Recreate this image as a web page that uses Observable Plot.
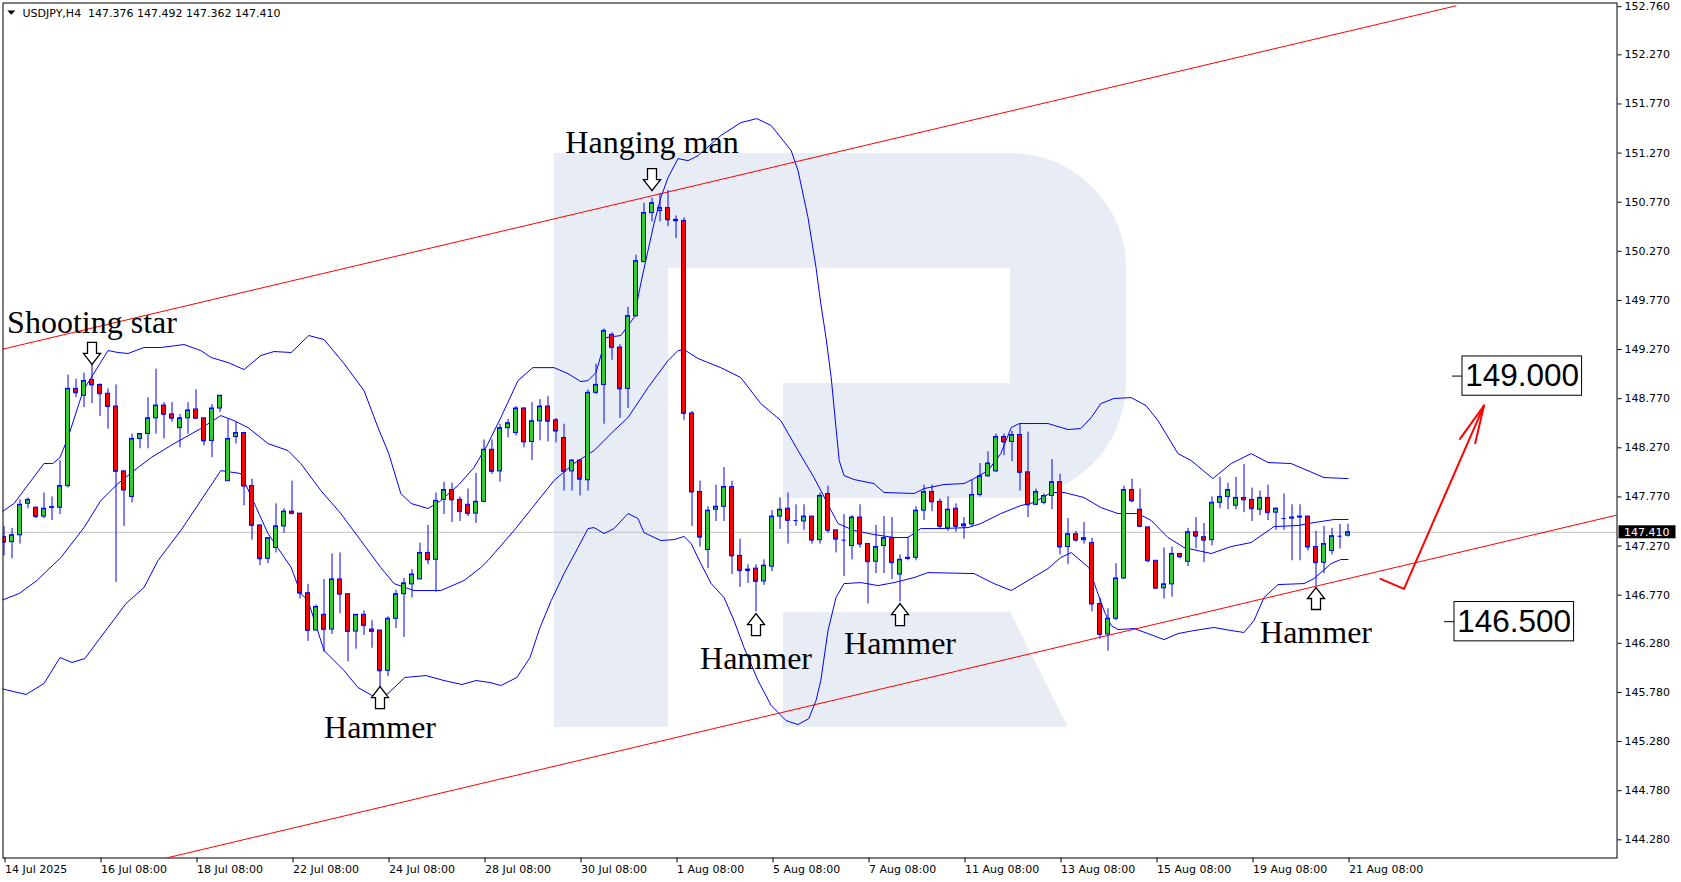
<!DOCTYPE html>
<html><head><meta charset="utf-8">
<script src="https://cdn.jsdelivr.net/npm/d3@7"></script>
<script src="https://cdn.jsdelivr.net/npm/@observablehq/plot@0.6"></script>
<style>
html,body{margin:0;padding:0;background:#fff;}
#chart{width:1681px;height:882px;overflow:hidden;}
svg text{white-space:pre;}
</style></head><body><div id="chart"></div>
<script>
// ---------- DATA ----------
const symbol = "USDJPY,H4";
const opens = [
147.36,147.31,147.38,147.70,147.66,147.57,147.66,147.66,147.88,148.87,
148.80,148.96,148.91,148.82,148.69,148.03,147.77,148.36,148.41,148.57,
148.70,148.61,148.47,148.57,148.66,148.57,148.34,148.67,147.93,148.38,
148.42,147.88,147.48,147.14,147.25,147.47,147.62,147.60,146.79,146.41,
146.57,146.42,146.93,146.78,146.40,146.57,146.42,146.41,146.00,146.53,
146.78,146.88,146.93,147.20,147.13,147.74,147.84,147.74,147.69,147.60,
147.72,148.25,148.03,148.47,148.42,148.67,148.33,148.54,148.69,148.55,
148.37,148.03,148.14,147.94,148.83,148.91,149.42,149.29,148.87,149.61,
150.16,150.66,150.68,150.71,150.59,150.58,148.62,147.82,147.23,147.64,
147.67,147.87,147.17,147.03,147.04,146.91,147.06,147.57,147.65,147.53,
147.52,147.57,147.33,147.80,147.43,147.33,147.27,147.56,147.29,147.11,
147.27,147.35,146.98,147.14,147.15,147.63,147.82,147.72,147.45,147.65,
147.47,147.49,147.79,147.98,148.03,148.38,148.33,148.40,148.02,147.69,
147.71,147.78,147.92,147.26,147.39,147.33,147.30,146.68,146.37,146.53,
146.94,147.84,147.64,147.46,147.12,146.84,146.88,147.19,147.11,147.41,
147.36,147.33,147.71,147.77,147.68,147.76,147.74,147.64,147.76,147.61,
147.55,147.55,147.56,147.57,147.26,147.10,147.22,147.37,147.376];
const highs = [
147.47,147.45,147.74,147.76,147.67,147.81,147.77,148.14,149.01,148.97,
149.03,149.12,148.92,148.87,148.91,148.03,148.41,148.41,148.78,149.07,
148.73,148.73,148.61,148.73,148.86,148.57,148.71,148.80,148.56,148.53,
148.42,147.95,147.48,147.35,147.70,147.65,147.93,147.60,146.88,146.67,
146.93,147.19,147.20,146.78,146.57,146.61,146.51,146.41,146.55,146.82,
146.94,147.03,147.30,147.48,147.81,147.92,147.91,147.77,147.85,148.01,
148.35,148.35,148.51,148.56,148.69,148.68,148.73,148.76,148.79,148.57,
148.51,148.15,148.15,148.86,149.12,149.48,149.44,149.32,149.70,150.23,
150.76,150.81,150.86,150.89,150.63,150.61,148.64,147.93,147.67,147.89,
148.07,147.93,147.34,147.08,147.08,147.13,147.63,147.76,147.81,147.69,
147.69,147.57,147.81,147.88,147.43,147.59,147.58,147.69,147.29,147.48,
147.57,147.56,147.18,147.36,147.67,147.89,147.89,147.75,147.77,147.70,
147.56,147.94,148.11,148.23,148.41,148.41,148.44,148.51,148.43,147.85,
147.80,148.15,148.00,147.55,147.42,147.51,147.35,146.74,146.63,147.09,
147.88,147.95,147.85,147.46,147.12,147.25,147.26,147.19,147.45,147.56,
147.50,147.77,147.97,147.91,147.97,148.10,147.86,147.83,147.89,147.66,
147.80,147.69,147.69,147.57,147.42,147.47,147.45,147.49,147.492];
const lows = [
147.17,147.14,147.29,147.65,147.55,147.55,147.53,147.59,147.86,148.78,
148.68,148.72,148.59,148.46,146.90,147.47,147.71,148.26,148.26,148.41,
148.36,148.53,148.27,148.41,148.57,148.29,148.17,148.63,147.93,148.31,
147.68,147.33,147.07,147.09,147.20,147.40,147.59,146.73,146.30,146.41,
146.19,146.37,146.58,146.09,146.22,146.36,146.23,145.81,145.94,146.43,
146.34,146.74,146.93,147.08,146.80,147.59,147.51,147.52,147.57,147.50,
147.71,148.00,147.92,148.37,148.39,148.27,148.14,148.34,148.33,148.32,
147.83,147.83,147.78,147.83,148.81,148.51,149.16,148.57,148.67,149.60,
150.16,150.57,150.57,150.52,150.40,148.55,147.47,147.26,147.04,147.52,
147.52,146.98,146.85,146.89,146.60,146.87,147.01,147.44,147.29,147.47,
147.43,147.29,147.29,147.40,147.20,146.96,147.13,147.25,146.68,146.99,
146.99,146.93,146.70,147.12,147.12,147.53,147.62,147.44,147.42,147.41,
147.34,147.47,147.77,147.97,148.02,148.19,148.13,147.83,147.56,147.68,
147.69,147.64,147.18,147.08,147.31,147.29,146.60,146.32,146.20,146.51,
146.93,147.71,147.46,147.10,146.84,146.73,146.75,147.14,147.06,147.24,
147.10,147.27,147.65,147.64,147.64,147.61,147.52,147.58,147.53,147.43,
147.43,147.12,147.12,147.22,146.86,146.99,147.18,147.24,147.362];
const closes = [
147.31,147.38,147.69,147.74,147.57,147.65,147.665,147.88,148.87,148.83,
148.95,148.91,148.82,148.69,148.03,147.84,148.36,148.41,148.57,148.70,
148.61,148.57,148.57,148.65,148.57,148.34,148.67,148.80,148.36,148.42,
147.88,147.48,147.14,147.35,147.47,147.62,147.60,146.79,146.41,146.65,
146.42,146.93,146.78,146.40,146.57,146.46,146.40,146.00,146.53,146.78,
146.89,146.98,147.20,147.13,147.73,147.84,147.74,147.62,147.60,147.72,
148.25,148.03,148.47,148.52,148.67,148.33,148.54,148.69,148.54,148.44,
148.03,148.14,147.95,148.83,148.91,149.46,149.29,148.87,149.61,150.17,
150.66,150.76,150.71,150.59,150.58,148.62,147.82,147.36,147.63,147.67,
147.87,147.17,147.02,147.02,146.91,147.07,147.57,147.64,147.53,147.53,
147.57,147.33,147.78,147.43,147.34,147.33,147.56,147.29,147.11,147.26,
147.35,147.10,147.13,147.15,147.63,147.82,147.72,147.47,147.64,147.47,
147.49,147.79,147.98,148.11,148.38,148.33,148.40,148.02,147.69,147.82,
147.78,147.92,147.26,147.39,147.33,147.35,146.68,146.37,146.53,146.94,
147.84,147.73,147.47,147.12,146.84,146.88,147.19,147.16,147.41,147.37,
147.33,147.71,147.77,147.84,147.76,147.74,147.65,147.76,147.61,147.65,
147.55,147.56,147.57,147.26,147.10,147.29,147.37,147.37,147.410];

// time axis: bar index of each label and its text
const timeTickBars = [0,12,24,36,48,60,72,84,96,108,120,132,144,156,168];
const timeTickLabels = ["14 Jul 2025","16 Jul 08:00","18 Jul 08:00","22 Jul 08:00","24 Jul 08:00","28 Jul 08:00","30 Jul 08:00","1 Aug 08:00","5 Aug 08:00","7 Aug 08:00","11 Aug 08:00","13 Aug 08:00","15 Aug 08:00","19 Aug 08:00","21 Aug 08:00"];
// price axis ticks
const priceTicks = [152.76,152.27,151.77,151.27,150.77,150.27,149.77,149.27,148.77,148.27,147.77,147.27,146.77,146.28,145.78,145.28,144.78,144.28];
const priceTickLabels = ["152.760","152.270","151.770","151.270","150.770","150.270","149.770","149.270","148.770","148.270","147.770","147.270","146.770","146.280","145.780","145.280","144.780","144.280"];

// Bollinger bands: [bar, price]
const bbUpper = [[-0.4,147.611],[1.25,147.703],[5,148.110],[6.1,148.110],[7,148.171],[8,148.374],[9.9,148.853],[13,149.260],[14.25,149.240],[15.5,149.230],[17.5,149.291],[19.6,149.291],[22.5,149.321],[24.6,149.260],[25.9,149.189],[28,149.138],[30,149.067],[32.1,149.209],[33.75,149.250],[35.9,149.240],[38.1,149.413],[40,149.372],[42.5,149.128],[45,148.853],[46.75,148.476],[48.1,148.211],[49.6,147.804],[50.9,147.703],[53,147.652],[54.6,147.733],[56.75,147.886],[58.75,148.069],[60.5,148.313],[62.1,148.578],[64.25,148.954],[66.1,149.086],[68.75,149.086],[70.5,149.025],[72.1,148.944],[73,148.954],[74,149.036],[75.25,149.392],[77.1,149.413],[78.75,149.596],[79.6,149.942],[80.5,150.278],[81.25,150.552],[82.1,150.817],[83,151.020],[84.25,151.214],[85.5,151.193],[86.75,151.244],[89.6,151.448],[92.1,151.580],[94.1,151.621],[95.9,151.550],[98.4,151.295],[99.25,151.092],[100.5,150.614],[101.5,150.105],[102.1,149.738],[102.75,149.392],[103.4,148.985],[104,148.476],[104.4,148.140],[105,147.988],[106.25,147.947],[108.75,147.906],[110,147.815],[113.75,147.805],[115,147.855],[117.5,147.896],[120,147.906],[121.25,147.957],[123,148.038],[124.6,148.211],[125.9,148.476],[126.9,148.517],[130.5,148.517],[133,148.456],[134.6,148.466],[135.9,148.578],[137.1,148.720],[138.75,148.772],[140.9,148.781],[142.75,148.700],[144.25,148.547],[146.75,148.211],[148.4,148.140],[151.1,147.957],[153.4,148.110],[155.9,148.211],[158,148.120],[160.9,148.110],[165,147.967],[168,147.957]];
const bbMiddle = [[-0.4,146.715],[1.9,146.787],[4.1,146.919],[7.1,147.152],[10,147.458],[12.1,147.733],[14.25,147.906],[16.25,148.038],[18.4,148.171],[21.25,148.313],[24.6,148.466],[27.1,148.598],[28.75,148.547],[30.5,148.476],[33,148.313],[35.5,148.242],[37.1,148.110],[39.6,147.835],[42.1,147.601],[44.6,147.326],[47.1,147.051],[48.75,146.888],[51.25,146.817],[54.6,146.817],[57.5,146.919],[59.6,147.051],[60.5,147.123],[63.75,147.428],[66.75,147.733],[68.75,147.937],[71.25,148.110],[73.75,148.242],[76.25,148.445],[78,148.578],[80.5,148.883],[83,149.158],[84.25,149.260],[85,149.270],[86.75,149.179],[89.6,149.086],[92.1,148.985],[94.6,148.720],[97.1,148.547],[99.25,148.242],[101.25,147.967],[102.1,147.835],[103.4,147.631],[104.25,147.499],[106.25,147.428],[108.75,147.387],[111.25,147.357],[113,147.357],[114.6,147.448],[117.1,147.448],[120.5,147.458],[122.1,147.499],[124.6,147.601],[127.1,147.682],[128.75,147.713],[130.9,147.815],[132.5,147.815],[135,147.764],[137.1,147.662],[139.25,147.601],[141.75,147.601],[143.4,147.530],[145.5,147.357],[147.5,147.255],[150.9,147.194],[153.4,147.265],[155.9,147.306],[157.5,147.397],[158.75,147.468],[161.75,147.479],[163.75,147.509],[166.25,147.540],[168,147.540]];
const bbLower = [[-0.4,145.820],[2.75,145.759],[5,145.871],[7,146.135],[8.5,146.085],[10.1,146.125],[13,146.441],[15.25,146.685],[17.5,146.848],[19.25,147.123],[22.1,147.428],[27.1,148.038],[29.6,148.008],[33,147.397],[35.9,147.051],[37.1,146.787],[38,146.715],[40,146.207],[42.5,146.003],[44.25,145.830],[46,145.749],[47,145.729],[48,145.769],[50.1,145.932],[52.75,145.952],[55,145.901],[57.25,145.861],[59,145.901],[60.75,145.881],[62.1,145.850],[64.1,145.932],[65.75,146.135],[67,146.441],[68.4,146.715],[69.6,146.919],[70,146.990],[71.75,147.255],[73,147.448],[73.75,147.458],[75,147.397],[76.25,147.448],[78,147.601],[79.25,147.550],[80,147.407],[82.1,147.326],[83.75,147.336],[85,147.367],[85.9,147.295],[87.1,147.092],[88.4,146.888],[90,146.746],[91.25,146.512],[92.5,146.237],[94.25,145.901],[95.9,145.647],[97.75,145.494],[99.25,145.453],[100.6,145.514],[101.5,145.697],[102.1,145.901],[103,146.410],[104,146.746],[105,146.888],[107.1,146.898],[109.25,146.868],[111.25,146.898],[113.75,146.949],[115.5,147.000],[121.25,146.990],[123.75,146.888],[125.9,146.817],[128,146.919],[130.5,147.041],[132.1,147.153],[133.4,147.204],[135.6,147.051],[136.6,146.817],[137.6,146.593],[138.4,146.461],[139.25,146.420],[141.25,146.430],[143,146.379],[145,146.318],[146.75,146.379],[148.75,146.410],[151.25,146.441],[153.4,146.410],[155,146.390],[156.25,146.512],[157.5,146.746],[159.25,146.878],[162.5,146.888],[163.75,146.939],[165.9,147.092],[167.1,147.133],[168,147.133]];

// Channel trend lines (two anchor points each)
const channelUpper = [[-1,149.258],[181.5,152.769]];
const channelLower = [[-1,143.685],[201.7,147.587]];
// Forecast arrow
const forecastPath = [[172.06,146.936],[175.0,146.834],[185.0,148.700]];
const forecastHeadA = [[185.0,148.700],[182.0,148.361]];
const forecastHeadB = [[185.0,148.700],[183.9,148.316]];
// Target levels
const levelValues = [149.0, 146.5];
const levelLeaderStart = [181.06, 180.06];

// Candlestick pattern annotations
const patternNames = ["Shooting star","Hanging man","Hammer","Hammer","Hammer","Hammer"];
const patternBars = [11, 81, 47, 94, 112, 164];
const patternDirs = ["down","down","up","up","up","up"];
const patternTextPrice = [149.436, 151.275, 145.321, 146.020, 146.173, 146.281];
const patternArrowPrice = [149.231, 151.000, 145.728, 146.471, 146.573, 146.736];

// ---------- BUILD ----------
const blue = "#0000ff", red = "#ff0000", green = "#32cd32";
const candles = opens.map((o, i) => ({i, o, h: highs[i], l: lows[i], c: closes[i]}));
const ups = candles.filter(d => d.c >= d.o);
const downs = candles.filter(d => d.c < d.o);
const pts = a => a.map(([i, p]) => ({i, p}));
const last = candles[candles.length - 1];
const header = `${symbol}  ${last.o.toFixed(3)} ${last.h.toFixed(3)} ${last.l.toFixed(3)} ${last.c.toFixed(3)}`;
const xLab = new Map(timeTickBars.map((b, k) => [b, timeTickLabels[k]]));
const yLab = new Map(priceTicks.map((v, k) => [v, priceTickLabels[k]]));
const patterns = patternNames.map((t, k) => ({t, i: patternBars[k], dir: patternDirs[k], tp: patternTextPrice[k], ap: patternArrowPrice[k]}));
const levels = levelValues.map((p, k) => ({p, i0: levelLeaderStart[k], label: p.toFixed(3)}));

function arrowSymbol(up) {
  return {
    draw(ctx, size) {
      const s = Math.sqrt(size / Math.PI);
      const k = up ? -1 : 1;
      const P = [[-4.5,-11],[4.5,-11],[4.5,0],[8.5,0],[0,11],[-8.5,0],[-4.5,0]];
      P.forEach(([x, y], n) => n ? ctx.lineTo(x*s, y*s*k) : ctx.moveTo(x*s, y*s*k));
      ctx.closePath();
    }
  };
}
const headerTri = {draw(ctx, size) { const s = Math.sqrt(size/Math.PI); ctx.moveTo(-4*s,-2*s); ctx.lineTo(4*s,-2*s); ctx.lineTo(0,2.2*s); ctx.closePath(); }};

const plot = Plot.plot({
  width: 1681, height: 882,
  marginLeft: 2.5, marginRight: 64.5, marginTop: 2.5, marginBottom: 24.5,
  x: {type: "linear", domain: [0, 168], range: [3.5, 1347.5], axis: null},
  y: {type: "linear", domain: [144.28, 152.76], range: [839.3, 6.2], axis: null},
  style: {background: "white", fontFamily: "DejaVu Sans", fontSize: "11px", color: "black", overflow: "visible"},
  marks: [
    Plot.ruleY([last.c], {stroke: "#c0c0c0", strokeWidth: 1}),
    Plot.line(pts(bbUpper), {x: "i", y: "p", stroke: blue, strokeWidth: 1, clip: true}),
    Plot.line(pts(bbMiddle), {x: "i", y: "p", stroke: blue, strokeWidth: 1, clip: true}),
    Plot.line(pts(bbLower), {x: "i", y: "p", stroke: blue, strokeWidth: 1, clip: true}),
    Plot.ruleX(candles, {x: "i", y1: "l", y2: "h", stroke: blue, strokeWidth: 1, clip: true}),
    Plot.rect(ups, {x1: d => d.i - 0.25, x2: d => d.i + 0.25, y1: "o", y2: "c", fill: green, stroke: blue, strokeWidth: 1, clip: true}),
    Plot.rect(downs, {x1: d => d.i - 0.25, x2: d => d.i + 0.25, y1: "o", y2: "c", fill: red, stroke: blue, strokeWidth: 1, clip: true}),
    Plot.ruleY(candles, {x1: d => d.i - 0.25, x2: d => d.i + 0.25, y: "c", stroke: blue, strokeWidth: 1, clip: true}),
    Plot.line(pts(channelUpper), {x: "i", y: "p", stroke: red, strokeWidth: 1, clip: true}),
    Plot.line(pts(channelLower), {x: "i", y: "p", stroke: red, strokeWidth: 1, clip: true}),
    Plot.line(pts(forecastPath), {x: "i", y: "p", stroke: red, strokeWidth: 2, clip: true}),
    Plot.line(pts(forecastHeadA), {x: "i", y: "p", stroke: red, strokeWidth: 2, clip: true}),
    Plot.line(pts(forecastHeadB), {x: "i", y: "p", stroke: red, strokeWidth: 2, clip: true}),
    // target levels
    Plot.ruleY(levels, {x1: "i0", x2: d => d.i0 + 1.25, y: "p", stroke: "black", strokeWidth: 1}),
    Plot.rect(levels, {x1: d => d.i0 + 1.25, x2: d => d.i0 + 16.2, y1: d => d.p - 0.2, y2: d => d.p + 0.2, fill: "white", stroke: "black", strokeWidth: 1}),
    Plot.text(levels, {x: d => d.i0 + 8.7, y: "p", text: "label", fontFamily: "Liberation Sans", fontSize: 31.5, fill: "black", textAnchor: "middle", lineAnchor: "middle"}),
    // pattern annotations
    Plot.dot(patterns.filter(d => d.dir === "down"), {x: "i", y: "ap", r: 1, symbol: arrowSymbol(false), fill: "white", stroke: "black", strokeWidth: 1.3}),
    Plot.dot(patterns.filter(d => d.dir === "up"), {x: "i", y: "ap", r: 1, symbol: arrowSymbol(true), fill: "white", stroke: "black", strokeWidth: 1.3}),
    Plot.text(patterns, {x: "i", y: "tp", text: "t", fontFamily: "Liberation Serif", fontSize: 32, fill: "black", textAnchor: "middle", lineAnchor: "bottom"}),
    // header
    Plot.dot([0], {frameAnchor: "top-left", dx: 8.3, dy: 9.6, r: 1, symbol: headerTri, fill: "black", stroke: "none"}),
    Plot.text([header], {frameAnchor: "top-left", dx: 19.5, dy: 14.2, text: d => d, textAnchor: "start", lineAnchor: "bottom", fill: "black"}),
    // axes
    Plot.axisY(priceTicks, {anchor: "right", tickSize: 4, tickPadding: 3.5, tickFormat: d => yLab.get(d), label: null, stroke: "black", fill: "black"}),
    Plot.axisX(timeTickBars, {anchor: "bottom", tickSize: 5, tickPadding: 2, tickFormat: d => xLab.get(d), textAnchor: "start", dx: 1, label: null, stroke: "black", fill: "black"}),
    Plot.frame({stroke: "black", strokeWidth: 1})
  ]
});

// Watermark logo (decoration, pixel space) placed beneath all marks
const svg = d3.select(plot);
svg.insert("path", "g")
  .attr("d", "M554,153 H1011 A115,115 0 0 1 1126,268 V383 A115,115 0 0 1 1011,498 H783 V383 H1010 V268 H668 V727 H554 Z M783,612 H1010 L1068,727 H783 Z")
  .attr("fill", "#e8edf5");

// Current price tag on the price axis, positioned with the y scale
const yS = plot.scale("y");
const yy = yS.apply(last.c);
svg.append("rect").attr("x", 1618.5).attr("y", yy - 6.5).attr("width", 57).attr("height", 13).attr("fill", "black");
svg.append("text").attr("x", 1624).attr("y", yy).attr("dy", "0.36em").attr("fill", "white")
  .attr("text-anchor", "start")
  .attr("font-family", "DejaVu Sans").attr("font-size", 11).text(last.c.toFixed(3));

document.getElementById("chart").append(plot);
</script></body></html>
